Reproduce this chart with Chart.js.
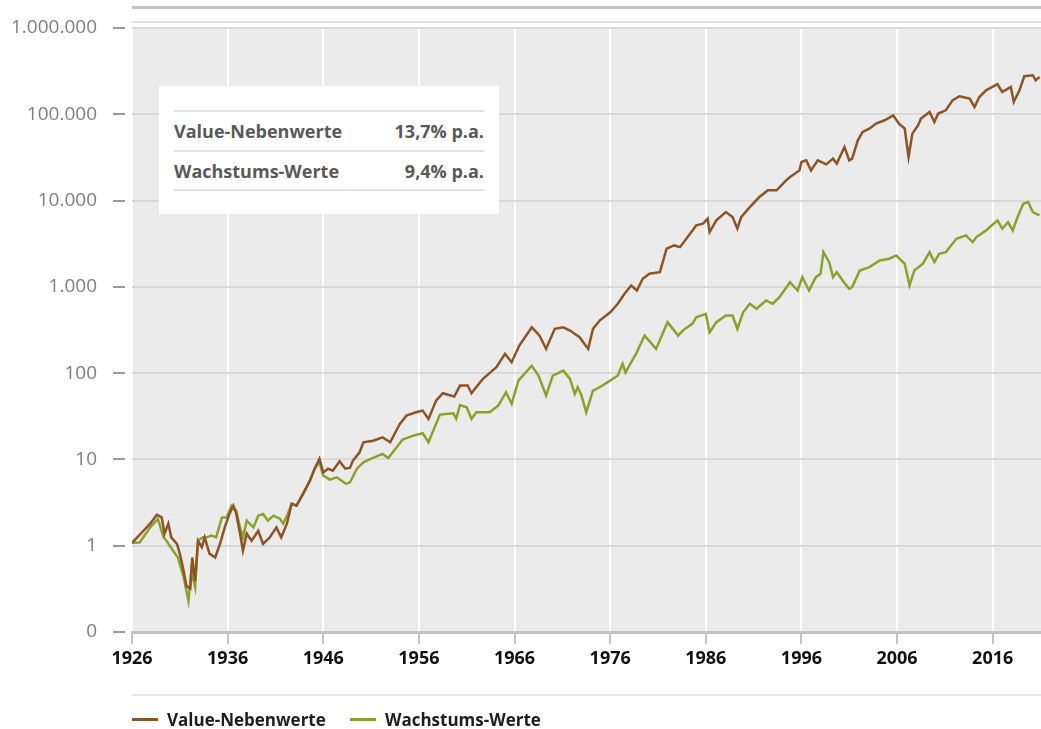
<!DOCTYPE html>
<html>
<head>
<meta charset="utf-8">
<script src="https://cdn.jsdelivr.net/npm/chart.js@4.4.1/dist/chart.umd.min.js"></script>
<style>
  body { margin: 0; background: #fff; font-family: "Open Sans", sans-serif; }
  #wrap { position: relative; width: 1041px; height: 729px; }
  .box { position: absolute; left: 159px; top: 86px; width: 340px; height: 128px; background: #fff; }
  .box .row { position: absolute; left: 15px; width: 310px; height: 38px; border-top: 2px solid #e3e3e3;
    display: flex; justify-content: space-between; align-items: center;
    font-weight: 700; font-size: 18px; color: #595959; }
  .box .last { position: absolute; left: 15px; width: 310px; top: 103px; border-top: 2px solid #e3e3e3; }
  .legend { position: absolute; left: 132px; top: 694px; width: 909px; border-top: 2px solid #e6e6e6; }
  .legend .item { position: absolute; top: 12px; display: flex; align-items: center;
    font-weight: 700; font-size: 17px; color: #1e1e1e; white-space: nowrap; }
  .legend .swatch { width: 26px; height: 3px; margin-right: 9px; }
</style>
</head>
<body>
<div id="wrap">
  <canvas id="chart"></canvas>
  <div class="box" id="box"></div>
  <div class="legend" id="legend"></div>
</div>
<script>
const seriesLabels = ["Value-Nebenwerte", "Wachstums-Werte"];
const seriesColors = ["#8e5424", "#8aa22a"];
const annualReturns = ["13,7% p.a.", "9,4% p.a."];

const tickYears = [1926, 1936, 1946, 1956, 1966, 1976, 1986, 1996, 2006, 2016];
const yTicks = [0.1, 1, 10, 100, 1000, 10000, 100000, 1000000];
const yTickLabels = ["0", "1", "10", "100", "1.000", "10.000", "100.000", "1.000.000"];

// Value-Nebenwerte (index, log scale)
const valueYears = [
  1926.0, 1926.7, 1927.2, 1927.9, 1928.6, 1929.1, 1929.4, 1929.8, 1930.1, 1930.7,
  1931.0, 1931.4, 1931.7, 1932.1, 1932.3, 1932.6, 1932.9, 1933.3, 1933.6, 1934.1,
  1934.7, 1935.2, 1935.7, 1936.2, 1936.6, 1936.9, 1937.3, 1937.6, 1938.0, 1938.5,
  1939.2, 1939.7, 1940.4, 1941.1, 1941.6, 1942.2, 1942.7, 1943.2, 1943.9, 1944.6,
  1945.1, 1945.6, 1946.0, 1946.5, 1947.0, 1947.7, 1948.3, 1948.8, 1949.1, 1949.8,
  1950.2, 1951.2, 1952.2, 1953.0, 1954.0, 1954.7, 1955.7, 1956.4, 1957.0, 1957.8,
  1958.5, 1959.7, 1960.3, 1961.1, 1961.5, 1962.4, 1962.7, 1964.1, 1965.0, 1965.7, 1966.5,
  1967.8, 1968.6, 1969.3, 1970.2, 1971.1, 1971.8, 1972.8, 1973.7, 1974.2, 1974.9,
  1976.0, 1976.8, 1977.5, 1978.2, 1978.8, 1979.4, 1980.1, 1981.2, 1981.9, 1982.7,
  1983.3, 1984.1, 1985.0, 1985.7, 1986.2, 1986.4, 1987.1, 1988.1, 1988.8, 1989.3,
  1989.7, 1990.6, 1991.6, 1992.5, 1993.4, 1994.4, 1994.8, 1995.3, 1995.8, 1996.0,
  1996.5, 1997.0, 1997.7, 1998.6, 1999.3, 1999.7, 2000.5, 2001.0, 2001.3, 2001.9,
  2002.4, 2003.1, 2003.8, 2004.7, 2005.6, 2006.2, 2006.8, 2007.2, 2007.6, 2008.2,
  2008.5, 2009.4, 2009.9, 2010.3, 2011.1, 2011.8, 2012.5, 2013.6, 2014.1, 2014.6,
  2015.3, 2016.5, 2017.0, 2017.9, 2018.2, 2018.8, 2019.3, 2020.2, 2020.5, 2020.9
];
const valueIndex = [
  1.08, 1.3, 1.49, 1.8, 2.29, 2.13, 1.38, 1.8, 1.25, 1.05,
  0.81, 0.51, 0.34, 0.32, 0.73, 0.39, 1.14, 0.96, 1.25, 0.81,
  0.73, 1.05, 1.63, 2.35, 2.91, 2.35, 1.38, 0.875, 1.38, 1.14,
  1.49, 1.05, 1.25, 1.63, 1.25, 1.8, 3.07, 2.91, 4.01, 5.68,
  7.82, 10.2, 7.08, 7.82, 7.41, 9.5, 7.82, 8.03, 9.68, 12.1,
  15.8, 16.5, 18.0, 15.8, 25.8, 32.2, 35.2, 36.8, 29.5, 48.1,
  58.5, 53.6, 71.8, 71.8, 58.5, 78.4, 85.9, 117, 167, 134, 209,
  340, 273, 191, 326, 340, 312, 261, 191, 326, 407,
  508, 637, 831, 1038, 908, 1242, 1419, 1482, 2768, 3020,
  2885, 3773, 5154, 5395, 6166, 4313, 5888, 7360, 6440, 4721,
  6440, 8410, 10990, 13130, 13130, 17140, 18750, 20500, 22390, 28000,
  29250, 22390, 29250, 26300, 30600, 26800, 41800, 29250, 30600, 49900,
  62400, 68200, 78000, 85200, 97300, 78000, 68200, 32000, 59700, 74500,
  89100, 106400, 81400, 101900, 111300, 145200, 161700, 152000, 121600, 158500,
  189700, 222800, 181500, 207500, 139000, 189700, 276000, 283300, 247900, 271000
];

// Wachstums-Werte
const growthYears = [
  1926.0, 1926.8, 1927.9, 1928.7, 1929.3, 1929.6, 1930.3, 1930.8, 1931.4, 1931.9,
  1932.2, 1932.6, 1932.9, 1933.4, 1933.8, 1934.3, 1934.8, 1935.4, 1935.9, 1936.4,
  1936.9, 1937.3, 1937.6, 1938.0, 1938.7, 1939.2, 1939.7, 1940.2, 1940.8, 1941.5,
  1941.8, 1942.3, 1942.7, 1943.2, 1943.9, 1944.6, 1945.1, 1945.6, 1946.0, 1946.7,
  1947.4, 1948.4, 1948.8, 1949.5, 1950.2, 1950.9, 1952.2, 1952.8, 1954.3, 1955.4,
  1956.4, 1957.0, 1958.2, 1959.6, 1959.9, 1960.3, 1961.0, 1961.5, 1962.0, 1963.4,
  1964.3, 1965.1, 1965.7, 1966.4, 1967.8, 1968.5, 1969.3, 1970.0, 1971.1, 1971.8,
  1972.3, 1972.6, 1973.0, 1973.5, 1974.2, 1974.9, 1976.0, 1976.8, 1977.3, 1977.6,
  1978.7, 1979.6, 1979.9, 1980.8, 1982.0, 1983.1, 1983.8, 1984.6, 1985.0, 1986.0,
  1986.4, 1987.1, 1988.1, 1988.8, 1989.3, 1989.9, 1990.6, 1991.3, 1992.3, 1993.0,
  1993.7, 1994.8, 1995.6, 1996.1, 1996.8, 1997.5, 1998.0, 1998.3, 1998.9, 1999.3,
  1999.7, 2000.3, 2001.0, 2001.3, 2002.1, 2003.1, 2004.2, 2005.2, 2005.9, 2006.8,
  2007.3, 2007.8, 2008.7, 2009.4, 2009.9, 2010.4, 2011.1, 2012.2, 2013.2, 2013.9,
  2014.3, 2015.3, 2016.5, 2017.0, 2017.6, 2018.1, 2018.6, 2019.2, 2019.7, 2020.2,
  2020.9
];
const growthIndex = [
  1.08, 1.09, 1.63, 2.04, 1.25, 1.14, 0.875, 0.73, 0.43, 0.23,
  0.51, 0.33, 1.14, 1.25, 1.25, 1.31, 1.25, 2.13, 2.13, 2.91,
  2.55, 1.63, 1.25, 1.95, 1.63, 2.23, 2.33, 1.95, 2.23, 2.04,
  1.8, 2.35, 3.07, 2.91, 4.01, 5.68, 7.82, 9.25, 6.49, 5.83,
  6.2, 5.2, 5.42, 7.76, 9.25, 10.1, 11.6, 10.4, 17.0, 18.9,
  20.1, 15.8, 33.1, 34.3, 29.7, 42.7, 40.2, 29.5, 35.2, 35.2,
  42.1, 60.0, 44.0, 82.0, 122, 93.8, 55.0, 93.8, 107, 85.9,
  57.5, 68.6, 55.0, 35.2, 62.8, 68.6, 82.0, 93.8, 128, 102,
  167, 273, 250, 191, 389, 273, 326, 373, 445, 487,
  298, 389, 466, 466, 326, 508, 637, 557, 695, 637,
  759, 1133, 908, 1295, 908, 1295, 1419, 2528, 1936, 1295,
  1482, 1186, 950, 993, 1549, 1694, 2024, 2118, 2313, 1853,
  1038, 1549, 1853, 2528, 1936, 2421, 2528, 3614, 3945, 3304,
  3773, 4510, 5888, 4721, 5630, 4510, 6440, 9200, 9610, 7360,
  6730
];

// info box + legend as html text
const box = document.getElementById("box");
seriesLabels.forEach((lab, i) => {
  const row = document.createElement("div");
  row.className = "row";
  row.style.top = 24 + i * 40 + "px";
  row.innerHTML = "<span>" + lab + "</span><span>" + annualReturns[i] + "</span>";
  box.appendChild(row);
});
const last = document.createElement("div");
last.className = "last";
box.appendChild(last);

const legend = document.getElementById("legend");
[0, 218].forEach((left, i) => {
  const item = document.createElement("div");
  item.className = "item";
  item.style.left = left + "px";
  item.innerHTML = '<span class="swatch" style="background:' + seriesColors[i] + '"></span>' + seriesLabels[i];
  legend.appendChild(item);
});

const plotBackground = {
  id: "plotBackground",
  beforeDraw(chart) {
    const { ctx, chartArea: a } = chart;
    ctx.save();
    ctx.fillStyle = "#ebebeb";
    ctx.fillRect(a.left, a.top, a.right - a.left, a.bottom - a.top);
    // rules above the plot
    ctx.fillStyle = "#c3c3c3";
    ctx.fillRect(a.left, 6, a.right - a.left, 3);
    ctx.fillStyle = "#e0e0e0";
    ctx.fillRect(a.left, 21, a.right - a.left, 2);
    ctx.restore();
  },
};

const toPoints = (xs, ys) => xs.map((x, i) => ({ x: x, y: ys[i] }));

new Chart(document.getElementById("chart"), {
  type: "line",
  data: {
    datasets: [
      {
        label: seriesLabels[0],
        data: toPoints(valueYears, valueIndex),
        borderColor: seriesColors[0],
        borderWidth: 2.5,
        pointRadius: 0,
        tension: 0,
      },
      {
        label: seriesLabels[1],
        data: toPoints(growthYears, growthIndex),
        borderColor: seriesColors[1],
        borderWidth: 2.5,
        pointRadius: 0,
        tension: 0,
      },
    ],
  },
  options: {
    responsive: true,
    maintainAspectRatio: false,
    animation: false,
    layout: { padding: { top: 28, right: 0, left: 0, bottom: 0 } },
    plugins: {
      legend: { display: false },
      tooltip: { enabled: false },
    },
    scales: {
      x: {
        type: "linear",
        min: 1926,
        max: 2021.05,
        afterBuildTicks: (scale) => {
          scale.ticks = tickYears.map((v) => ({ value: v }));
        },
        afterFit: (scale) => {
          scale.height = 97;
        },
        ticks: {
          callback: (val) => String(val),
          color: "#111",
          padding: 4,
          maxRotation: 0,
          autoSkip: false,
          font: { family: "Open Sans", size: 18, weight: "bold" },
        },
        grid: {
          color: "#ffffff",
          lineWidth: 2,
          tickColor: "#c4c4c4",
          tickLength: 12,
          tickWidth: 2,
        },
        border: { display: true, color: "#c4c4c4", width: 3 },
      },
      y: {
        type: "logarithmic",
        min: 0.1,
        max: 1000000,
        afterBuildTicks: (scale) => {
          scale.ticks = yTicks.map((v) => ({ value: v }));
        },
        afterFit: (scale) => {
          scale.width = 132;
        },
        ticks: {
          callback: (val, i) => yTickLabels[i],
          color: "#7f7f7f",
          padding: 16,
          autoSkip: false,
          font: { family: "Open Sans", size: 19 },
        },
        grid: {
          color: "#d9d9d9",
          lineWidth: 2,
          tickColor: "#9a9a9a",
          tickLength: 19,
          tickWidth: 2,
          tickBorderDash: [12, 30],
        },
        border: { display: false },
      },
    },
  },
  plugins: [plotBackground],
});
</script>
</body>
</html>
